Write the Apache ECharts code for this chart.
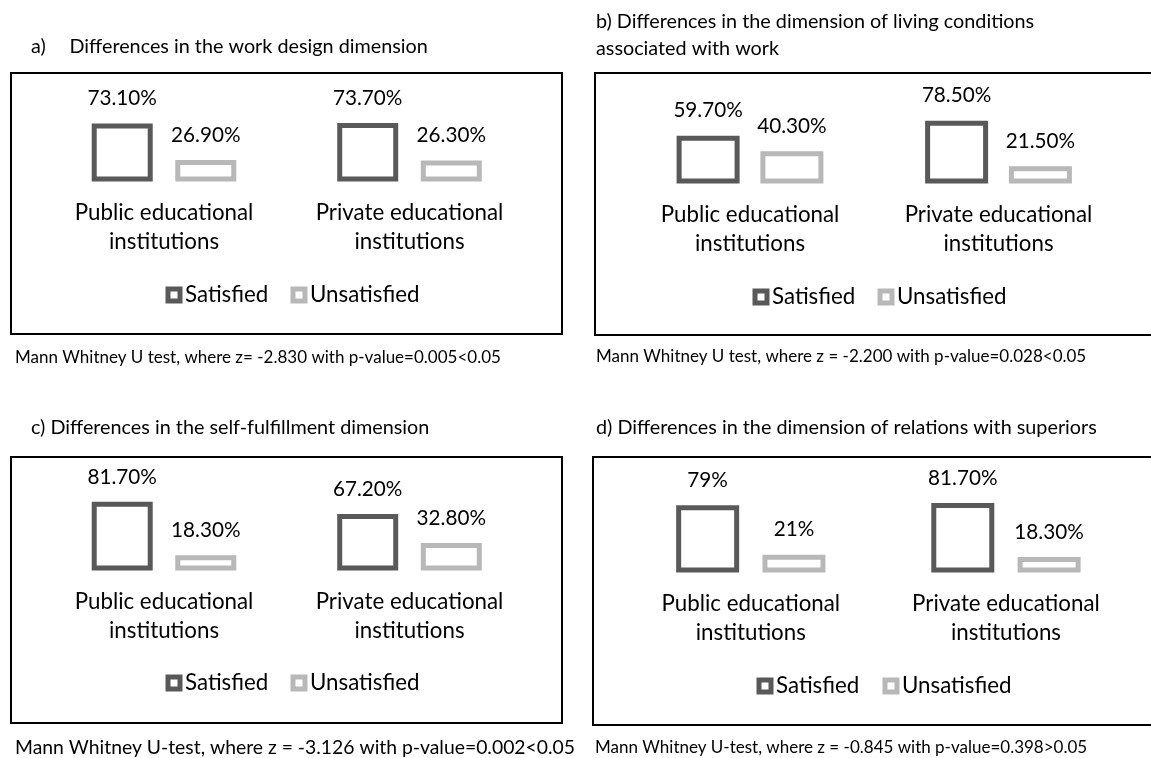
<!DOCTYPE html>
<html>
<head>
<meta charset="utf-8">
<script src="https://cdn.jsdelivr.net/npm/echarts@6/dist/echarts.min.js"></script>
<style>
  html, body { margin: 0; padding: 0; background: #fff; }
  #chart { width: 1151px; height: 758px; }
</style>
</head>
<body>
<div id="chart"></div>
<script>
// Categories shared by the four panels
var categories = ['Public educational\ninstitutions', 'Private educational\ninstitutions'];
var seriesNames = ['Satisfied', 'Unsatisfied'];

// a) work design dimension
var workDesignSatisfied = [73.1, 73.7];
var workDesignUnsatisfied = [26.9, 26.3];
// b) living conditions associated with work
var livingSatisfied = [59.7, 78.5];
var livingUnsatisfied = [40.3, 21.5];
// c) self-fulfillment dimension
var selfSatisfied = [81.7, 67.2];
var selfUnsatisfied = [18.3, 32.8];
// d) relations with superiors
var superiorsSatisfied = [79, 81.7];
var superiorsUnsatisfied = [21, 18.3];

var titleA = ['a)', 'Differences in the work design dimension'];
var titleB = ['b) Differences in the dimension of living conditions', 'associated with work'];
var titleC = 'c) Differences in the self-fulfillment dimension';
var titleD = 'd) Differences in the dimension of relations with superiors';

var noteA = 'Mann Whitney U test, where z= -2.830 with p-value=0.005<0.05';
var noteB = 'Mann Whitney U test, where z = -2.200 with p-value=0.028<0.05';
var noteC = 'Mann Whitney U-test, where z = -3.126 with p-value=0.002<0.05';
var noteD = 'Mann Whitney U-test, where z = -0.845 with p-value=0.398>0.05';

var FONT = 'Lato';
var DARK = '#595959';
var LIGHT = '#b8b8b8';
var INK = '#000';

function percent(v) {
    return Number.isInteger(v) ? v + '%' : v.toFixed(2) + '%';
}

// Layout of each panel (box, plot area, legend spots)
var panels = [
    { sat: workDesignSatisfied, unsat: workDesignUnsatisfied,
      box: [11, 73, 551, 261], grid: { left: 41.25, width: 491, top: 102, height: 79.5 },
      barWidth: 61, barGap: '37%', legendY: 295, legendX: [165.5, 290.5] },
    { sat: livingSatisfied, unsat: livingUnsatisfied,
      box: [595, 73, 558, 262], grid: { left: 625.75, width: 497, top: 103.5, height: 80 },
      barWidth: 63, barGap: '33%', legendY: 297, legendX: [752.5, 877.5] },
    { sat: selfSatisfied, unsat: selfUnsatisfied,
      box: [11, 457, 551, 266], grid: { left: 41.25, width: 491, top: 486.5, height: 84 },
      barWidth: 61, barGap: '37%', legendY: 683, legendX: [165.5, 290.5] },
    { sat: superiorsSatisfied, unsat: superiorsUnsatisfied,
      box: [593, 457, 571, 268], grid: { left: 623.25, width: 510.25, top: 487.5, height: 85 },
      barWidth: 63, barGap: '37%', legendY: 686, legendX: [756.5, 882.5] }
];

var grids = [], xAxes = [], yAxes = [], series = [], legends = [], graphics = [];

panels.forEach(function (p, i) {
    grids.push(p.grid);
    xAxes.push({
        type: 'category', gridIndex: i, data: categories,
        axisLine: { show: false }, axisTick: { show: false },
        axisLabel: { fontFamily: FONT, fontSize: 22.3, lineHeight: 29, color: INK, margin: 17, interval: 0 }
    });
    yAxes.push({ type: 'value', gridIndex: i, min: 0, max: 100, show: false, splitLine: { show: false } });

    [p.sat, p.unsat].forEach(function (vals, k) {
        series.push({
            type: 'bar', name: seriesNames[k], xAxisIndex: i, yAxisIndex: i,
            data: vals, barWidth: p.barWidth, barGap: p.barGap,
            itemStyle: { color: '#fff', borderColor: k === 0 ? DARK : LIGHT, borderWidth: 5 },
            label: {
                show: true, position: 'top', distance: 14,
                fontFamily: FONT, fontSize: 20.7, lineHeight: 22, color: INK,
                formatter: function (d) { return percent(d.value); }
            }
        });
        legends.push({
            data: [seriesNames[k]], left: p.legendX[k], top: p.legendY - 12, padding: 0,
            icon: 'rect', itemWidth: 12, itemHeight: 12,
            itemStyle: { borderWidth: 5 },
            selectedMode: false,
            textStyle: { fontFamily: FONT, fontSize: 22.3, lineHeight: 24, color: INK }
        });
    });

    graphics.push({
        type: 'rect', shape: { x: p.box[0], y: p.box[1], width: p.box[2], height: p.box[3] },
        style: { fill: 'none', stroke: '#000', lineWidth: 2 }, silent: true
    });
});

function text(str, x, y, size) {
    return {
        type: 'text', x: x, y: y, silent: true,
        style: { text: str, fontFamily: FONT, fontSize: size, fill: INK, align: 'left', verticalAlign: 'middle' }
    };
}

graphics.push(text(titleA[0], 31, 47, 19.8));
graphics.push(text(titleA[1], 69.5, 47, 19.8));
graphics.push(text(titleB[0], 596, 22, 19.8));
graphics.push(text(titleB[1], 596, 49, 19.8));
graphics.push(text(titleC, 31, 428, 19.8));
graphics.push(text(titleD, 596, 428, 19.8));
graphics.push(text(noteA, 15, 358, 17));
graphics.push(text(noteB, 596, 357, 17));
graphics.push(text(noteC, 15, 748, 19.35));
graphics.push(text(noteD, 595, 748, 17));

var chart = echarts.init(document.getElementById('chart'));
chart.setOption({
    animation: false,
    backgroundColor: '#fff',
    grid: grids,
    xAxis: xAxes,
    yAxis: yAxes,
    legend: legends,
    series: series,
    graphic: graphics
});
</script>
</body>
</html>
